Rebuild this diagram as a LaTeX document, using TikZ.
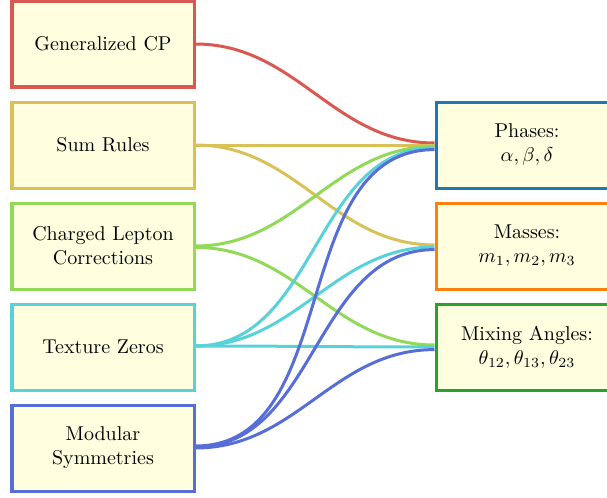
\documentclass[tikz,border=0pt]{standalone}
\usepackage{amsmath}

\definecolor{cpred}{RGB}{217,89,82}
\definecolor{sumyellow}{RGB}{217,193,87}
\definecolor{leptgreen}{RGB}{145,217,87}
\definecolor{texcyan}{RGB}{87,210,217}
\definecolor{modblue}{RGB}{87,110,217}
\definecolor{phaseblue}{RGB}{31,119,180}
\definecolor{massorange}{RGB}{255,127,14}
\definecolor{anglegreen}{RGB}{44,160,44}
\definecolor{boxfill}{RGB}{255,255,224}

\tikzset{
  modelbox/.style={rectangle, draw, fill=boxfill, line width=1.5pt,
    minimum width=91pt, minimum height=43pt, align=center, inner sep=2pt},
  flow/.style={line width=1.5pt, out=0, in=180}
}

\begin{document}
\begin{tikzpicture}[x=0.5pt, y=-0.5pt]
    \useasboundingbox (0,0) rectangle (607,498);
    % Draw nodes for the approaches
    \node[modelbox, draw=cpred] (gcp) at (103,44) {Generalized CP};
    \node[modelbox, draw=sumyellow] (sumr) at (103,145) {Sum Rules};
    \node[modelbox, draw=leptgreen] (clep) at (103,246) {Charged Lepton\\Corrections};
    \node[modelbox, draw=texcyan] (tzero) at (103,347) {Texture Zeros};
    \node[modelbox, draw=modblue] (modsym) at (103,448) {Modular\\Symmetries};
    % Draw nodes for the observables
    \node[modelbox, draw=phaseblue] (phases) at (527,145) {Phases:\\$\alpha, \beta, \delta$};
    \node[modelbox, draw=massorange] (masses) at (527,246) {Masses:\\$m_1, m_2, m_3$};
    \node[modelbox, draw=anglegreen] (angles) at (527,347) {Mixing Angles:\\$\theta_{12}, \theta_{13}, \theta_{23}$};

    % Draw all edges (left to right)
    \draw[flow, cpred] (gcp.east) to ([yshift=1pt]phases.west); % CP to phases
    \draw[flow, sumyellow] (sumr.east) to (phases.west); % sum rules to phases
    \draw[flow, sumyellow] (sumr.east) to ([yshift=0.5pt]masses.west); % sum rules to masses
    \draw[flow, leptgreen] (clep.east) to ([yshift=-0.7pt]phases.west); % leptons to phases
    \draw[flow, leptgreen] ([yshift=-0.7pt]clep.east) to ([yshift=1pt]angles.west); % leptons to angles
    \draw[flow, texcyan] ([yshift=0.5pt]tzero.east) to ([yshift=-1.4pt]phases.west); % textures to phases
    \draw[flow, texcyan] ([yshift=0.5pt]tzero.east) to ([yshift=-0.5pt]masses.west); % textures to masses
    \draw[flow, texcyan] ([yshift=0.5pt]tzero.east) to (angles.west); % textures to angles
    \draw[flow, modblue] ([yshift=1pt]modsym.east) to ([yshift=-2.3pt]phases.west); % modular to phases
    \draw[flow, modblue] ([yshift=0.5pt]modsym.east) to ([yshift=-1.8pt]masses.west); % modular to masses
    \draw[flow, modblue] (modsym.east) to ([yshift=-1.3pt]angles.west); % modular to angles

\end{tikzpicture}
\end{document}
